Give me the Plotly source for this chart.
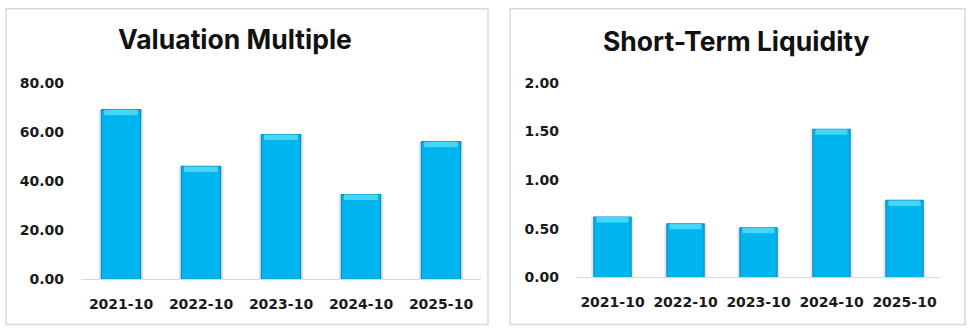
import plotly.graph_objects as go

categories = ["2021-10", "2022-10", "2023-10", "2024-10", "2025-10"]
valuation_multiple = [69.0, 45.9, 58.9, 34.5, 56.0]
short_term_liquidity = [0.62, 0.55, 0.51, 1.52, 0.79]
titles = ["Valuation Multiple", "Short-Term Liquidity"]
y_ticks_left = [0, 20, 40, 60, 80]
y_ticks_right = [0, 0.5, 1.0, 1.5, 2.0]

W, H = 973, 333
BAR = "#00B4F0"
EDGE = "#0A8CC0"
CAP = "#45D6FA"
TICKFONT = dict(family="DejaVu Sans", size=14, color="#1a1a1a", weight="bold")

fig = go.Figure()


def add_panel(values, xa, ya, ymax, width):
    cap_h = ymax * 0.028
    # soft shadow
    fig.add_trace(go.Bar(x=categories, y=values, width=width + 0.07,
                         marker=dict(color="rgba(0,0,0,0.10)", line=dict(width=0)),
                         xaxis=xa, yaxis=ya, hoverinfo="skip", showlegend=False))
    # main bar
    fig.add_trace(go.Bar(x=categories, y=values, width=width,
                         marker=dict(color=BAR, line=dict(color=EDGE, width=1.2)),
                         xaxis=xa, yaxis=ya, showlegend=False))
    # top bevel cap
    fig.add_trace(go.Bar(x=categories, y=[cap_h] * len(values),
                         base=[v - cap_h for v in values], width=width * 0.86,
                         marker=dict(color=CAP, line=dict(width=0)),
                         xaxis=xa, yaxis=ya, hoverinfo="skip", showlegend=False))


add_panel(valuation_multiple, "x", "y", 80, 0.49)
add_panel(short_term_liquidity, "x2", "y2", 2, 0.51)

axis_x_common = dict(type="category", showgrid=False, zeroline=False, showline=True,
                     linecolor="#D9D9D9", linewidth=1.2, ticks="", tickfont=TICKFONT,
                     range=[-0.5, 4.5], ticklabelstandoff=12, fixedrange=True)
axis_y_common = dict(showgrid=False, zeroline=False, showline=False, ticks="",
                     tickfont=TICKFONT, tickformat=".2f", fixedrange=True,
                     ticklabelstandoff=16)

fig.update_layout(
    width=W, height=H, margin=dict(l=0, r=0, t=0, b=0),
    paper_bgcolor="white", plot_bgcolor="white", barmode="overlay",
    xaxis=dict(domain=[81 / W, 481 / W], anchor="y", **axis_x_common),
    yaxis=dict(domain=[1 - 285 / H, 1 - 78.4 / H], anchor="x", range=[0, 80],
               tickvals=y_ticks_left, **axis_y_common),
    xaxis2=dict(domain=[576 / W, 941 / W], anchor="y2", **axis_x_common),
    yaxis2=dict(domain=[1 - 283 / H, 1 - 78.4 / H], anchor="x2", range=[0, 2],
                tickvals=y_ticks_right, **axis_y_common),
)

# panel borders
for x0, x1 in [(6, 488), (510, 965)]:
    fig.add_shape(type="rect", xref="paper", yref="paper",
                  x0=x0 / W, x1=x1 / W, y0=1 - 332.5 / H, y1=1 - 0.8 / H,
                  line=dict(color="#D9D9D9", width=1.5), fillcolor="rgba(0,0,0,0)",
                  layer="below")

for t, cx, cy in [(titles[0], 235, 32.5), (titles[1], 736, 34.5)]:
    fig.add_annotation(text=t, xref="paper", yref="paper", x=cx / W, y=1 - cy / H,
                       xanchor="center", yanchor="middle", showarrow=False,
                       font=dict(family="Inter", size=26.5, color="#111111", weight="bold"))

fig.write_html("out.html")
